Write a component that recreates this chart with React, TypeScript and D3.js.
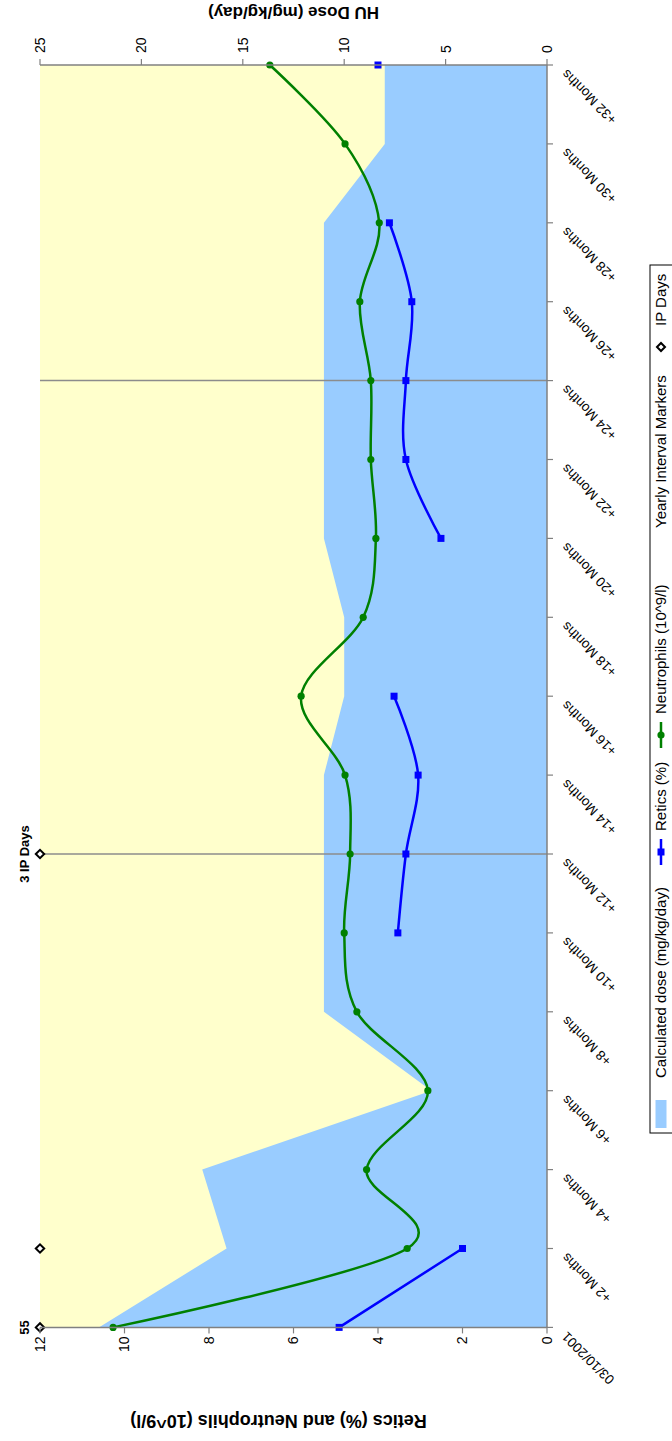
import React from 'react';
import * as d3 from 'd3';

const categories = ['03/10/2001', '+2 Months', '+4 Months', '+6 Months', '+8 Months', '+10 Months', '+12 Months', '+14 Months', '+16 Months', '+18 Months', '+20 Months', '+22 Months', '+24 Months', '+26 Months', '+28 Months', '+30 Months', '+32 Months'];
const doseValues = [22.1, 15.8, 17.0, 5.7, 11, 11, 11, 11, 10, 10, 11, 11, 11, 11, 11, 8, 8];
const neutrophils = [10.27, 3.31, 4.27, 2.82, 4.5, 4.8, 4.66, 4.78, 5.82, 4.35, 4.05, 4.17, 4.17, 4.43, 3.97, 4.78, 6.56];
const retics: (number | null)[] = [4.92, 2.0, null, null, null, 3.53, 3.34, 3.05, 3.62, null, 2.51, 3.34, 3.34, 3.2, 3.73, null, 4.0];
const yearlyMarkers = ['+12 Months', '+24 Months'];
const ipDayCategories = ['03/10/2001', '+2 Months', '+12 Months'];
const ipDayLabels = ['55', '', '3 IP Days'];
const leftTicks = [0, 2, 4, 6, 8, 10, 12];
const rightTicks = [0, 5, 10, 15, 20, 25];
const legendLabels = ['Calculated dose (mg/kg/day)', 'Retics (%)', 'Neutrophils (10^9/l)', 'Yearly Interval Markers', 'IP Days'];

const PAGE_W = 672;
const PAGE_H = 1441;
const FONT = '"Liberation Sans", Arial, sans-serif';

export default function App() {
  // landscape frame (rotated -90deg onto the portrait page)
  const X0 = 113.6, X1 = 1376, Y0 = 40, Y1 = 547;
  const x = d3.scalePoint<string>().domain(categories).range([X0, X1]);
  const yL = d3.scaleLinear().domain([0, 12]).range([Y1, Y0]);
  const yR = d3.scaleLinear().domain([0, 25]).range([Y1, Y0]);

  const area = d3.area<number>()
    .x((_, i) => x(categories[i]) as number)
    .y0(Y1)
    .y1(d => yR(d));

  const curve = d3.curveCardinal.tension(0);
  const neutLine = d3.line<number>()
    .x((_, i) => x(categories[i]) as number)
    .y(d => yL(d))
    .curve(curve);
  const reticLine = d3.line<number | null>()
    .defined(d => d != null)
    .x((_, i) => x(categories[i]) as number)
    .y(d => yL(d as number))
    .curve(curve);

  const green = '#008000';
  const blue = '#0000FF';
  const axisCol = '#808080';

  const diamond = (cx: number, cy: number, r: number) =>
    `M${cx},${cy - r}L${cx + r},${cy}L${cx},${cy + r}L${cx - r},${cy}Z`;

  // legend layout (landscape coords)
  const LX = 308, LX2 = 1176, LY = 650, LY2 = 700;
  const ly = 666; // text baseline
  const lm = 661; // symbol centre line
  const LF = 15;
  const legendText = (label: string, start: number) => (
    <text x={start} y={ly} fontSize={LF}>{label}</text>
  );

  return (
    <svg width={PAGE_W} height={PAGE_H} style={{ position: 'absolute', left: 0, top: 0, background: '#fff' }}
      fontFamily={FONT}>
      <g transform={`translate(0,${PAGE_H}) rotate(-90)`}>
        {/* plot background */}
        <rect x={X0} y={Y0} width={X1 - X0} height={Y1 - Y0} fill="#FFFFCC" />
        {/* dose area */}
        <path d={area(doseValues) || ''} fill="#99CCFF" />
        {/* yearly markers */}
        {yearlyMarkers.map(c => (
          <line key={c} x1={x(c)} x2={x(c)} y1={Y0} y2={Y1} stroke="#8c8c8c" strokeWidth={1.5} />
        ))}
        {/* neutrophils */}
        <path d={neutLine(neutrophils) || ''} fill="none" stroke={green} strokeWidth={2.5} />
        {neutrophils.map((d, i) => (
          <circle key={i} cx={x(categories[i])} cy={yL(d)} r={3.6} fill={green} />
        ))}
        {/* retics */}
        <path d={reticLine(retics) || ''} fill="none" stroke={blue} strokeWidth={2.5} />
        {retics.map((d, i) => d == null ? null : (
          <rect key={i} x={(x(categories[i]) as number) - 3.5} y={yL(d) - 3.5} width={7} height={7} fill={blue} />
        ))}
        {/* IP days */}
        {ipDayCategories.map((c, i) => (
          <g key={c}>
            <path d={diamond(x(c) as number, Y0, 4.2)} fill="#fff" stroke="#000" strokeWidth={2} />
            {ipDayLabels[i] && (
              <text x={x(c)} y={Y0 - 11} textAnchor="middle" fontSize={13} fontWeight="bold">{ipDayLabels[i]}</text>
            )}
          </g>
        ))}

        {/* category axis */}
        <line x1={X0} x2={X1} y1={Y1} y2={Y1} stroke={axisCol} strokeWidth={1.5} />
        {categories.map(c => (
          <g key={c}>
            <line x1={x(c)} x2={x(c)} y1={Y1} y2={Y1 + 6} stroke={axisCol} strokeWidth={1.2} />
            <text transform={`translate(${(x(c) as number) - 7},${Y1 + 17}) rotate(-45)`} textAnchor="end"
              dy="0.35em" fontSize={13.5}>{c}</text>
          </g>
        ))}
        {/* left axis */}
        <line x1={X0} x2={X0} y1={Y0} y2={Y1} stroke={axisCol} strokeWidth={1.5} />
        {leftTicks.map(t => (
          <g key={t}>
            <line x1={X0 - 6} x2={X0} y1={yL(t)} y2={yL(t)} stroke={axisCol} strokeWidth={1.2} />
            <text x={X0 - 9} y={yL(t)} dy="0.35em" textAnchor="end" fontSize={14}>{t}</text>
          </g>
        ))}
        <text transform={`translate(20,${(Y0 + Y1) / 2 - 15}) rotate(-90)`} textAnchor="middle"
          dy="0.35em" fontSize={18} fontWeight="bold">Retics (%) and Neutrophils (10^9/l)</text>
        {/* right axis */}
        <line x1={X1} x2={X1} y1={Y0} y2={Y1} stroke={axisCol} strokeWidth={1.5} />
        {rightTicks.map(t => (
          <g key={t}>
            <line x1={X1} x2={X1 + 6} y1={yR(t)} y2={yR(t)} stroke={axisCol} strokeWidth={1.2} />
            <text x={X1 + 12} y={yR(t)} dy="0.35em" textAnchor="start" fontSize={14}>{t}</text>
          </g>
        ))}
        <text transform={`translate(1428,${(Y0 + Y1) / 2}) rotate(-90)`} textAnchor="middle"
          dy="0.35em" fontSize={17} fontWeight="bold">HU Dose (mg/kg/day)</text>

        {/* legend */}
        <rect x={LX} y={LY} width={LX2 - LX} height={LY2 - LY} fill="#fff" stroke="#000" strokeWidth={1} />
        <rect x={313} y={lm - 5.5} width={28} height={11} fill="#99CCFF" />
        {legendText(legendLabels[0], 363)}
        <line x1={576} x2={602} y1={lm} y2={lm} stroke={blue} strokeWidth={2.5} />
        <rect x={589 - 3.5} y={lm - 3.5} width={7} height={7} fill={blue} />
        {legendText(legendLabels[1], 610)}
        <line x1={693} x2={719} y1={lm} y2={lm} stroke={green} strokeWidth={2.5} />
        <circle cx={706} cy={lm} r={3.6} fill={green} />
        {legendText(legendLabels[2], 727)}
        {legendText(legendLabels[3], 913)}
        <path d={diamond(1094, lm, 4)} fill="#fff" stroke="#000" strokeWidth={2} />
        {legendText(legendLabels[4], 1115)}
      </g>
    </svg>
  );
}
